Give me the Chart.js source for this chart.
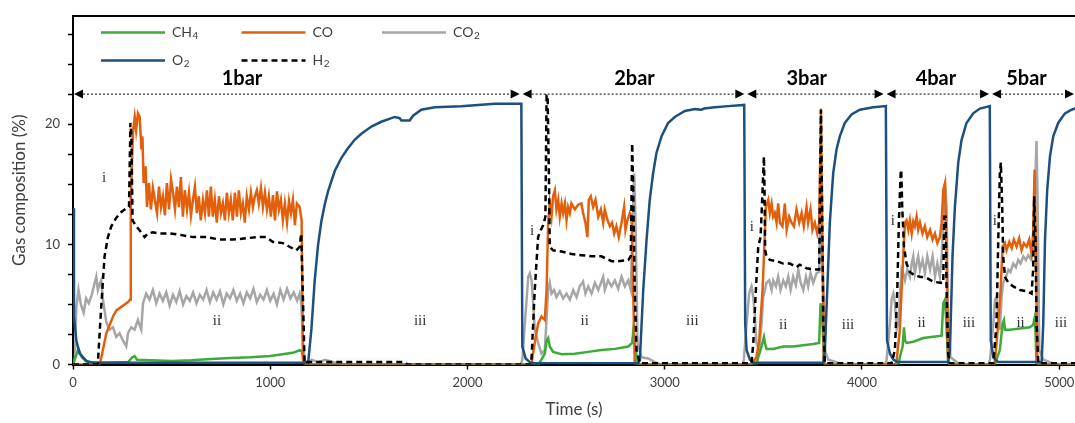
<!DOCTYPE html>
<html>
<head>
<meta charset="utf-8">
<script src="https://cdn.jsdelivr.net/npm/chart.js@4.4.1/dist/chart.umd.min.js"></script>
<style>
    html, body { margin: 0; padding: 0; background: #fff; }
    #wrap { width: 1075px; height: 423px; position: relative; }
</style>
</head>
<body>
<div id="wrap"><canvas id="gasChart"></canvas></div>
<script>
// 시간(s) / 조성(%) 값 - 그림에서 읽은 값
const ch4 = [
    [0, 0], [10, 0.5], [28, 1.3], [45, 0.6], [70, 0.2], [150, 0.15], [280, 0.2], [300, 0.6], [312, 0.7], [325, 0.4],
    [400, 0.35], [500, 0.3], [600, 0.35], [700, 0.45], [800, 0.55], [900, 0.6], [1000, 0.7], [1080, 0.9], [1120, 1.0],
    [1150, 1.2], [1160, 1.1], [1170, 0.3], [1182, 0],
    [2360, 0], [2375, 0.4], [2392, 0.9], [2401, 2.0], [2409, 2.2], [2417, 1.5], [2434, 1.05], [2477, 0.86], [2544, 0.9],
    [2612, 1.05], [2679, 1.2], [2747, 1.3], [2815, 1.5], [2835, 1.8], [2840, 2.7], [2848, 1.8], [2862, 0.2], [2875, 0],
    [3465, 0], [3474, 0.6], [3491, 1.5], [3503, 2.3], [3508, 1.8], [3516, 1.3], [3550, 1.3], [3601, 1.5], [3651, 1.5],
    [3702, 1.6], [3753, 1.7], [3783, 1.8], [3790, 5.1], [3800, 3.4], [3807, 0.2], [3815, 0],
    [4185, 0], [4192, 0.6], [4206, 1.5], [4213, 3.1], [4218, 2.0], [4226, 1.8], [4260, 1.9], [4311, 2.2], [4361, 2.3],
    [4404, 2.4], [4412, 5.1], [4421, 5.4], [4429, 2.9], [4437, 0.2], [4445, 0],
    [4675, 0], [4682, 0.4], [4699, 1.2], [4713, 3.4], [4720, 3.7], [4725, 2.9], [4750, 2.9], [4801, 3.0], [4851, 3.1],
    [4868, 3.3], [4877, 4.0], [4885, 0.1], [4895, 0], [5080, 0],
];

const co = [
    [0, 0], [135, 0], [144, 0.6], [169, 2.6], [203, 4.0], [220, 4.5], [254, 4.9], [279, 5.2], [290, 5.4], [293, 13.7],
    [304, 19.3], [313, 20.6], [320, 19.5], [329, 20.9], [338, 20.6], [347, 17.9], [352, 19.0], [358, 15.1], [368, 16.5],
    [375, 13.1], [385, 15.1], [395, 12.9], [405, 14.7], [415, 13.7], [426, 12.6], [436, 14.8], [446, 13.1], [456, 14.0],
    [466, 12.4], [476, 15.1], [487, 12.9], [497, 15.4], [507, 14.3], [517, 12.9], [527, 14.8], [537, 13.1], [547, 15.6],
    [557, 12.3], [567, 14.5], [578, 12.9], [588, 14.3], [598, 12.4], [608, 13.7], [618, 14.8], [628, 12.6], [638, 14.0],
    [648, 12.0], [659, 13.7], [669, 12.6], [679, 14.5], [689, 12.3], [699, 14.8], [709, 12.3], [719, 13.7], [729, 11.8],
    [740, 14.0], [750, 12.6], [760, 13.4], [770, 12.0], [780, 14.3], [790, 12.6], [800, 13.7], [810, 12.0], [821, 14.3],
    [831, 12.3], [841, 14.5], [851, 12.6], [861, 13.4], [871, 11.8], [881, 14.0], [892, 12.9], [902, 14.3], [912, 13.1],
    [922, 14.0], [932, 14.5], [942, 13.4], [953, 14.7], [963, 13.1], [973, 14.3], [983, 12.9], [993, 14.0], [1003, 12.3],
    [1014, 14.1], [1024, 12.0], [1034, 14.4], [1044, 12.9], [1054, 13.7], [1064, 12.0], [1074, 13.4], [1085, 11.8],
    [1095, 13.6], [1105, 12.6], [1115, 13.7], [1125, 11.6], [1135, 13.4], [1149, 13.1], [1159, 12.0], [1166, 0.4], [1175, 0],
    [2320, 0], [2325, 0.1], [2341, 1.8], [2358, 3.4], [2375, 4.0], [2392, 3.7], [2401, 6.2], [2409, 11.8], [2417, 13.4],
    [2426, 12.3], [2434, 14.0], [2443, 14.5], [2451, 12.9], [2460, 13.7], [2468, 12.3], [2477, 13.4], [2485, 12.6],
    [2494, 13.4], [2502, 12.0], [2510, 13.1], [2519, 12.6], [2527, 13.4], [2544, 12.9], [2561, 13.3], [2578, 13.4],
    [2586, 12.6], [2598, 11.8], [2608, 10.6], [2615, 13.7], [2625, 14.0], [2637, 13.1], [2649, 13.7], [2663, 12.3],
    [2676, 12.9], [2688, 11.8], [2696, 12.9], [2710, 12.0], [2722, 11.5], [2733, 11.8], [2744, 10.9], [2755, 11.5],
    [2767, 10.6], [2781, 11.8], [2794, 13.1], [2801, 11.2], [2811, 12.0], [2823, 12.6], [2832, 12.3], [2840, 6.2],
    [2848, 0.1], [2860, 0],
    [3440, 0], [3465, 0.6], [3479, 2.0], [3487, 4.0], [3496, 6.2], [3503, 9.0], [3513, 13.1], [3525, 13.7], [3533, 12.6],
    [3542, 13.4], [3550, 12.3], [3558, 12.6], [3567, 11.8], [3575, 13.4], [3584, 11.8], [3597, 11.5], [3609, 13.4],
    [3618, 11.2], [3631, 12.3], [3643, 11.8], [3655, 11.5], [3668, 12.9], [3682, 11.8], [3694, 12.6], [3705, 11.5],
    [3719, 13.1], [3727, 11.8], [3739, 12.9], [3749, 11.2], [3761, 11.8], [3773, 10.9], [3783, 11.8], [3792, 21.3],
    [3800, 9.0], [3807, 0.1], [3815, 0],
    [4170, 0], [4176, 0.4], [4192, 2.9], [4201, 6.2], [4209, 9.0], [4218, 11.8], [4226, 12.0], [4235, 11.2], [4243, 12.0],
    [4252, 10.9], [4260, 11.9], [4268, 11.5], [4277, 12.3], [4285, 11.2], [4294, 11.8], [4307, 10.9], [4319, 11.5],
    [4331, 10.6], [4345, 11.2], [4358, 10.4], [4370, 10.9], [4382, 10.1], [4395, 10.6], [4404, 11.8], [4412, 14.5],
    [4421, 15.1], [4429, 9.0], [4437, 0.1], [4445, 0],
    [4668, 0], [4674, 0.3], [4691, 3.4], [4703, 6.2], [4713, 9.8], [4725, 10.1], [4733, 9.5], [4747, 10.2], [4759, 9.7],
    [4770, 10.4], [4784, 9.8], [4797, 10.5], [4809, 9.5], [4821, 10.1], [4835, 9.8], [4848, 10.4], [4860, 9.2],
    [4868, 11.0], [4875, 16.2], [4882, 9.0], [4889, 0.1], [4900, 0], [5080, 0],
];

const co2 = [
    [0, 0], [10, 0.5], [17, 4.8], [28, 6.2], [40, 5.0], [54, 4.3], [66, 5.5], [80, 5.1], [95, 5.8], [110, 6.8], [118, 7.3],
    [126, 6.2], [135, 6.7], [143, 7.0], [152, 5.4], [169, 3.5], [186, 2.9], [203, 3.1], [219, 2.3], [236, 2.6], [253, 2.0],
    [270, 1.5], [279, 2.6], [295, 3.1], [312, 2.9], [329, 3.7], [346, 2.9], [355, 5.1], [371, 5.9], [388, 5.4], [405, 6.2],
    [422, 5.1], [439, 5.9], [456, 5.3], [473, 6.0], [490, 4.9], [507, 5.8], [524, 5.2], [541, 6.1], [558, 5.0], [575, 5.7],
    [592, 5.3], [609, 6.0], [626, 5.1], [643, 5.8], [660, 5.4], [677, 6.2], [694, 5.2], [711, 6.0], [728, 5.4], [745, 6.1],
    [762, 5.0], [779, 5.9], [796, 5.5], [813, 6.2], [830, 5.3], [847, 5.9], [864, 5.1], [881, 6.0], [898, 5.5], [915, 6.3],
    [932, 5.2], [949, 5.8], [966, 5.4], [983, 6.2], [1000, 5.3], [1017, 5.9], [1034, 5.0], [1051, 6.2], [1068, 5.4],
    [1085, 6.3], [1102, 5.5], [1119, 6.0], [1136, 5.3], [1149, 5.9], [1158, 5.0], [1165, 2.0], [1175, 0.3], [1190, 0.1],
    [1210, 0.4], [1240, 0.2], [1280, 0.4], [1320, 0.2], [1360, 0.05], [1400, 0],
    [2270, 0], [2278, 0.4], [2291, 3.4], [2308, 7.3], [2316, 7.6], [2325, 7.0], [2333, 5.1], [2341, 2.9], [2358, 1.8],
    [2375, 0.9], [2392, 1.2], [2409, 6.2], [2417, 6.8], [2426, 5.9], [2439, 6.2], [2451, 5.6], [2468, 6.1], [2485, 5.5],
    [2502, 5.9], [2519, 5.4], [2536, 6.2], [2553, 5.6], [2569, 6.5], [2586, 6.9], [2598, 5.9], [2612, 6.5], [2629, 5.9],
    [2646, 6.8], [2663, 6.2], [2679, 6.9], [2688, 7.3], [2696, 6.2], [2713, 7.0], [2730, 6.5], [2747, 7.0], [2764, 6.3],
    [2781, 7.3], [2798, 6.5], [2815, 7.0], [2828, 6.2], [2845, 15.9], [2852, 11.8], [2862, 1.8], [2882, 0.6], [2916, 0.5],
    [2950, 0.2], [2980, 0],
    [3395, 0], [3401, 0.4], [3415, 3.4], [3428, 5.9], [3440, 6.5], [3449, 5.6], [3457, 4.0], [3465, 1.8], [3479, 1.2],
    [3491, 3.4], [3499, 5.6], [3508, 6.2], [3516, 6.8], [3530, 7.0], [3542, 6.2], [3550, 7.0], [3564, 6.5], [3575, 7.3],
    [3587, 6.2], [3601, 7.0], [3614, 6.5], [3626, 7.3], [3638, 6.2], [3651, 7.3], [3665, 6.6], [3677, 7.9], [3689, 6.8],
    [3702, 6.2], [3716, 7.3], [3727, 6.5], [3739, 7.6], [3753, 6.8], [3770, 7.6], [3783, 7.7], [3792, 15.1], [3800, 9.0],
    [3812, 1.2], [3829, 0.4], [3871, 0.2], [3890, 0],
    [4118, 0], [4125, 0.4], [4142, 3.4], [4150, 5.4], [4159, 5.9], [4167, 5.1], [4176, 2.9], [4184, 3.4], [4192, 5.6],
    [4201, 7.9], [4209, 7.6], [4218, 7.0], [4230, 7.9], [4243, 7.3], [4252, 8.4], [4260, 9.0], [4268, 7.6], [4277, 8.4],
    [4285, 9.0], [4294, 7.9], [4307, 8.7], [4319, 7.6], [4331, 9.0], [4345, 7.9], [4358, 9.0], [4370, 7.3], [4382, 8.4],
    [4395, 7.3], [4404, 9.0], [4412, 11.8], [4421, 15.1], [4429, 13.1], [4437, 3.4], [4449, 0.6], [4480, 0.2], [4500, 0],
    [4642, 0], [4649, 0.4], [4666, 3.4], [4674, 5.4], [4682, 5.6], [4691, 4.0], [4699, 2.9], [4708, 5.6], [4716, 6.8],
    [4730, 7.3], [4742, 7.9], [4753, 7.7], [4767, 8.4], [4780, 8.1], [4792, 8.7], [4804, 8.4], [4818, 9.0], [4831, 8.7],
    [4843, 9.1], [4855, 8.8], [4868, 9.5], [4877, 14.5], [4885, 18.6], [4890, 14.0], [4899, 1.2], [4919, 0.4],
    [4953, 0.2], [4980, 0], [5080, 0],
];

const o2 = [
    [0, 13.0], [5, 4.0], [17, 2.0], [34, 0.9], [68, 0.3], [100, 0.15], [1180, 0.15], [1192, 0.1], [1209, 3.0], [1225, 6.9],
    [1242, 9.9], [1259, 11.9], [1276, 13.3], [1293, 14.4], [1327, 16.1], [1361, 17.2], [1394, 18.0], [1428, 18.7],
    [1462, 19.2], [1513, 19.8], [1563, 20.2], [1631, 20.6], [1656, 20.5], [1665, 20.3], [1707, 20.3], [1724, 20.7],
    [1766, 21.2], [1834, 21.4], [1969, 21.5], [2138, 21.7], [2273, 21.7],
    [2278, 1.5], [2295, 0.5], [2316, 0.2], [2340, 0.1], [2865, 0.1], [2874, 0.4], [2891, 6.2], [2908, 10.4], [2924, 13.7],
    [2941, 15.9], [2958, 17.6], [2984, 19.0], [3017, 20.1], [3051, 20.6], [3102, 21.1], [3153, 21.25], [3186, 21.2],
    [3200, 21.3], [3254, 21.4], [3322, 21.5], [3403, 21.6], [3408, 3.4], [3415, 1.2], [3432, 0.4], [3450, 0.15],
    [3804, 0.15], [3812, 1.2], [3824, 6.2], [3837, 11.8], [3854, 15.9], [3871, 17.9], [3888, 19.0], [3913, 20.1],
    [3947, 20.8], [3989, 21.2], [4057, 21.4], [4121, 21.5], [4127, 2.0], [4142, 0.9], [4159, 0.4], [4180, 0.2],
    [4437, 0.2], [4446, 1.2], [4459, 9.0], [4471, 13.1], [4488, 16.8], [4505, 18.7], [4530, 20.1], [4564, 20.9],
    [4598, 21.3], [4648, 21.5], [4653, 2.0], [4666, 0.6], [4690, 0.2], [4911, 0.2], [4919, 3.4], [4928, 10.4],
    [4939, 14.5], [4953, 17.3], [4970, 19.0], [4995, 20.1], [5029, 20.9], [5063, 21.2], [5080, 21.3],
];

const h2 = [
    [0, 0], [120, 0], [126, 0.1], [143, 4.8], [160, 9.0], [177, 10.6], [194, 11.5], [219, 12.2], [245, 12.7], [270, 13.0],
    [284, 13.1], [288, 17.0], [291, 20.1], [296, 19.0], [302, 12.0], [321, 11.5], [346, 11.0], [363, 10.6], [380, 10.9],
    [405, 11.0], [439, 10.9], [490, 10.9], [540, 10.8], [608, 10.6], [676, 10.6], [743, 10.4], [811, 10.4], [878, 10.5],
    [929, 10.6], [980, 10.6], [1014, 10.2], [1064, 10.1], [1098, 9.8], [1132, 9.5], [1149, 9.8], [1157, 10.9], [1166, 5.4],
    [1174, 0.1], [1185, 0.2], [1680, 0.2], [1695, 0], [2320, 0],
    [2325, 0.6], [2341, 6.2], [2358, 10.6], [2372, 11.2], [2384, 11.6], [2395, 12.3], [2401, 22.4], [2406, 22.4],
    [2414, 14.5], [2417, 9.8], [2434, 9.5], [2477, 9.4], [2527, 9.2], [2578, 9.1], [2629, 9.0], [2679, 9.0], [2730, 8.6],
    [2764, 8.6], [2815, 8.7], [2828, 9.0], [2835, 18.4], [2840, 14.5], [2848, 6.2], [2857, 1.2], [2874, 0.1], [3440, 0.1],
    [3449, 1.8], [3462, 6.2], [3474, 9.8], [3486, 10.6], [3496, 14.5], [3503, 17.3], [3506, 14.5], [3509, 9.5], [3516, 9.0],
    [3533, 8.7], [3567, 8.6], [3601, 8.4], [3635, 8.4], [3668, 8.1], [3685, 8.3], [3719, 8.0], [3770, 7.9], [3783, 7.9],
    [3792, 21.2], [3797, 14.5], [3804, 3.4], [3812, 0.1], [4150, 0.1],
    [4167, 1.2], [4179, 6.2], [4187, 11.8], [4196, 15.9], [4199, 16.2], [4204, 13.1], [4213, 9.8], [4226, 8.4], [4243, 7.7],
    [4268, 7.4], [4294, 7.3], [4328, 7.2], [4361, 6.9], [4395, 6.8], [4412, 6.8], [4417, 12.3], [4424, 12.3], [4429, 6.2],
    [4437, 0.9], [4446, 0.1], [4666, 0.1],
    [4682, 3.4], [4691, 10.4], [4699, 15.9], [4704, 16.8], [4711, 13.1], [4716, 9.0], [4725, 7.3], [4742, 6.8], [4767, 6.5],
    [4801, 6.2], [4835, 6.1], [4860, 5.9], [4868, 8.0], [4873, 14.0], [4880, 10.4], [4885, 3.4], [4894, 0.1], [5080, 0.1],
];

// 축 눈금
const xTickValues = [0, 1000, 2000, 3000, 4000, 5000];
const yTickValues = [0, 2.5, 5, 7.5, 10, 12.5, 15, 17.5, 20, 22.5, 25, 27.5];
const yLabelValues = [0, 10, 20];

// 압력 구간 (화살표) + 라벨
const pressureBounds = [0, 2272, 3411, 4117, 4652, 5080];
const pressureLabels = ["1bar", "2bar", "3bar", "4bar", "5bar"];
const pressureLabelX = [857, 2847, 3720, 4375, 4834];
const arrowLevel = 22.5;

// 단계 표시 i / ii / iii
const stageText = ["i", "ii", "iii", "i", "ii", "iii", "i", "ii", "iii", "i", "ii", "iii", "i", "ii", "iii"];
const stageX = [157, 730, 1760, 2327, 2594, 3140, 3441, 3601, 3929, 4157, 4302, 4542, 4673, 4804, 5009];
const stageY = [15.5, 3.6, 3.6, 11.1, 3.6, 3.6, 11.4, 3.3, 3.3, 11.9, 3.45, 3.45, 11.9, 3.45, 3.45];

const toXY = (arr) => arr.map(([x, y]) => ({ x, y }));
const FONT = "Lato, 'Open Sans', sans-serif";
const TEXT = "#404040";
const SUBS = "₀₁₂₃₄₅₆₇₈₉";

// 범례 배치 (열, 행)
const legendSlots = [
    { label: "CH₄", col: 0, row: 0 },
    { label: "CO", col: 1, row: 0 },
    { label: "CO₂", col: 2, row: 0 },
    { label: "O₂", col: 0, row: 1 },
    { label: "H₂", col: 1, row: 1 },
];

// 아래첨자 숫자는 작은 글씨로
function drawFormula(ctx, text, x, y) {
    let cx = x;
    for (const ch of text) {
        const d = SUBS.indexOf(ch);
        if (d >= 0) {
            ctx.font = "10px " + FONT;
            ctx.fillText(String(d), cx + 0.5, y + 3);
            cx += ctx.measureText(String(d)).width + 0.5;
        } else {
            ctx.font = "14px " + FONT;
            ctx.fillText(ch, cx, y);
            cx += ctx.measureText(ch).width;
        }
    }
}

const overlay = {
    id: "overlay",
    afterDraw(chart) {
        const { ctx, chartArea: a, scales } = chart;
        const xs = scales.x;
        const ys = scales.y;
        ctx.save();

        // 위쪽 테두리
        ctx.strokeStyle = "#000";
        ctx.lineWidth = 2;
        ctx.beginPath();
        ctx.moveTo(a.left, a.top);
        ctx.lineTo(a.right, a.top);
        ctx.stroke();

        // i / ii / iii
        ctx.fillStyle = "#333";
        ctx.font = "15px 'Liberation Serif', serif";
        ctx.textAlign = "center";
        ctx.textBaseline = "middle";
        stageText.forEach((t, i) => {
            ctx.fillText(t, xs.getPixelForValue(stageX[i]), ys.getPixelForValue(stageY[i]));
        });

        // 압력 구간 화살표
        const ay = ys.getPixelForValue(arrowLevel);
        const head = 9;
        for (let i = 0; i < pressureLabels.length; i++) {
            let x0 = xs.getPixelForValue(pressureBounds[i]) + 1.5;
            let x1 = xs.getPixelForValue(pressureBounds[i + 1]) - 1.5;
            if (i === 0) x0 = a.left + 1;
            if (i === pressureLabels.length - 1) x1 = a.right - 1;

            ctx.strokeStyle = "#000";
            ctx.lineWidth = 1;
            ctx.setLineDash([2, 2]);
            ctx.beginPath();
            ctx.moveTo(x0 + head, ay);
            ctx.lineTo(x1 - head, ay);
            ctx.stroke();
            ctx.setLineDash([]);

            ctx.fillStyle = "#000";
            ctx.beginPath();
            ctx.moveTo(x0, ay);
            ctx.lineTo(x0 + head, ay - 4.5);
            ctx.lineTo(x0 + head, ay + 4.5);
            ctx.closePath();
            ctx.fill();
            ctx.beginPath();
            ctx.moveTo(x1, ay);
            ctx.lineTo(x1 - head, ay - 4.5);
            ctx.lineTo(x1 - head, ay + 4.5);
            ctx.closePath();
            ctx.fill();

            ctx.font = "bold 20px " + FONT;
            ctx.textAlign = "center";
            ctx.textBaseline = "middle";
            ctx.fillText(pressureLabels[i], xs.getPixelForValue(pressureLabelX[i]), ay - 16);
        }

        // 범례
        ctx.textAlign = "left";
        ctx.textBaseline = "middle";
        legendSlots.forEach((slot) => {
            const ds = chart.data.datasets.find((d) => d.label === slot.label);
            const lx = a.left + 28 + slot.col * 140.5;
            const ly = a.top + 16.5 + slot.row * 28;
            ctx.strokeStyle = ds.borderColor;
            ctx.lineWidth = ds.borderWidth;
            ctx.setLineDash(ds.borderDash || []);
            ctx.beginPath();
            ctx.moveTo(lx, ly);
            ctx.lineTo(lx + 64, ly);
            ctx.stroke();
            ctx.setLineDash([]);
            ctx.fillStyle = TEXT;
            drawFormula(ctx, slot.label, lx + 71, ly);
        });

        ctx.restore();
    },
};

const lineStyle = {
    borderWidth: 2.5,
    pointRadius: 0,
    tension: 0,
    fill: false,
};

const ctxGas = document.getElementById("gasChart").getContext("2d");

const gasChart = new Chart(ctxGas, {
    type: "line",
    data: {
        datasets: [
            { ...lineStyle, label: "H₂", data: toXY(h2), borderColor: "#000000", borderDash: [6, 4], order: 1 },
            { ...lineStyle, label: "O₂", data: toXY(o2), borderColor: "#1b5080", order: 2 },
            { ...lineStyle, label: "CO", data: toXY(co), borderColor: "#e2600c", order: 3 },
            { ...lineStyle, label: "CH₄", data: toXY(ch4), borderColor: "#3cab37", order: 4 },
            { ...lineStyle, label: "CO₂", data: toXY(co2), borderColor: "#a6a6a6", order: 5 },
        ],
    },
    options: {
        responsive: true,
        maintainAspectRatio: false,
        animation: false,
        layout: {
            padding: { top: 16, right: 0, left: 0, bottom: 0 },
        },
        plugins: {
            legend: { display: false },
            tooltip: { enabled: false },
        },
        scales: {
            x: {
                type: "linear",
                min: 0,
                max: 5080,
                afterBuildTicks: (s) => {
                    s.ticks = xTickValues.map((v) => ({ value: v }));
                },
                afterFit: (s) => {
                    s.height = 58.5;
                    s.paddingLeft = 0;
                    s.paddingRight = 0;
                },
                ticks: {
                    color: TEXT,
                    font: { family: FONT, size: 13 },
                    padding: 6,
                    maxRotation: 0,
                    autoSkip: false,
                    callback: (v) => String(v),
                },
                grid: {
                    drawOnChartArea: false,
                    drawTicks: true,
                    tickLength: 5,
                    tickWidth: 1.5,
                    color: "#000",
                },
                border: { color: "#000", width: 2 },
                title: {
                    display: true,
                    text: "Time (s)",
                    color: TEXT,
                    font: { family: FONT, size: 17 },
                    padding: { top: 0, bottom: 3 },
                },
            },
            y: {
                min: 0,
                max: 29,
                afterBuildTicks: (s) => {
                    s.ticks = yTickValues.map((v) => ({ value: v }));
                },
                afterFit: (s) => {
                    s.width = 73;
                    s.paddingTop = 0;
                    s.paddingBottom = 0;
                },
                ticks: {
                    color: TEXT,
                    font: { family: FONT, size: 13 },
                    padding: 8,
                    autoSkip: false,
                    callback: (v) => (yLabelValues.includes(v) ? String(v) : ""),
                },
                grid: {
                    drawOnChartArea: false,
                    drawTicks: true,
                    tickLength: 5,
                    tickWidth: 1.5,
                    color: "#000",
                },
                border: { color: "#000", width: 2 },
                title: {
                    display: true,
                    text: "Gas composition (%)",
                    color: TEXT,
                    font: { family: FONT, size: 17 },
                    padding: { top: 9, bottom: 0 },
                },
            },
        },
    },
    plugins: [overlay],
});
</script>
</body>
</html>
